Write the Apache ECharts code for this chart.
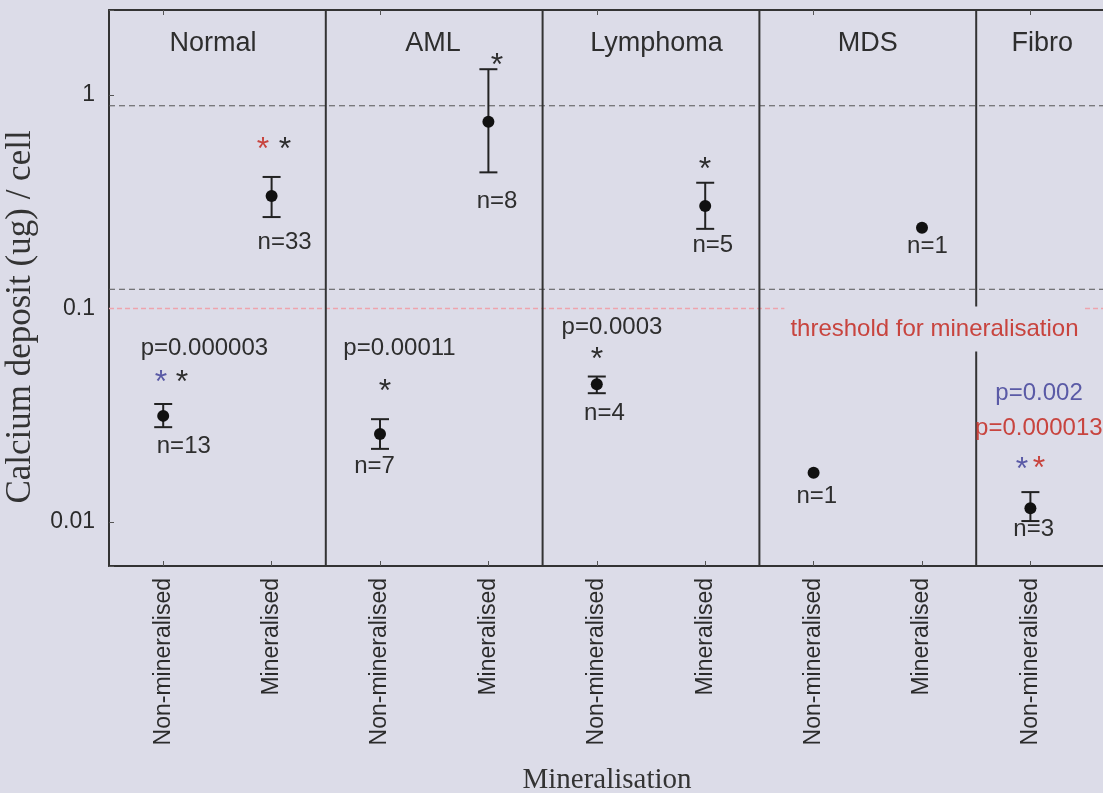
<!DOCTYPE html>
<html><head><meta charset="utf-8">
<script src="https://cdn.jsdelivr.net/npm/echarts@6/dist/echarts.min.js"></script>
<style>html,body{margin:0;padding:0;background:#dcdce8;} #c{width:1103px;height:793px;}</style>
</head><body><div id="c"></div>
<script>
// ---------- data ----------
const categories = ['Non-mineralised','Mineralised','Non-mineralised','Mineralised','Non-mineralised','Mineralised','Non-mineralised','Mineralised','Non-mineralised','Mineralised'];
const groupNames = ['Normal','AML','Lymphoma','MDS','Fibro'];
const meanValues  = [0.0314, 0.336, 0.0258, 0.75, 0.0442, 0.302, 0.017, 0.239, 0.0116, null];
const lowerValues = [0.0278, 0.268, 0.0220, 0.434, 0.0401, 0.236, null, null, 0.0101, null];
const upperValues = [0.0357, 0.413, 0.0303, 1.32, 0.0480, 0.388, null, null, 0.0138, null];
const sampleSizes = [13, 33, 7, 8, 4, 5, 1, 1, 3, null];
const pValueTexts = ['p=0.000003', 'p=0.00011', 'p=0.0003', 'p=0.002', 'p=0.000013'];
const thresholdText = 'threshold for mineralisation';
const refLineValues = [0.89, 0.123];
const thresholdValue = 0.1;
const yTickValues = [0.01, 0.1, 1];
const yTitle = 'Calcium deposit (ug) / cell';
const xTitle = 'Mineralisation';

// ---------- layout (annotation anchors in axis units) ----------
const DARK = '#2e2e2e', BLUE = '#5a5aa6', RED = '#c8443e', PINK = '#eea4ad';
const yMin = 0.00622, yMax = 2.5;
const groupTitleAnchors = [[0.46, 1.75], [2.49, 1.75], [4.55, 1.75], [6.50, 1.75], [8.11, 1.75]];
const nLabelAnchors = [[0.19, 0.0225], [1.12, 0.203], [1.95, 0.0183], [3.08, 0.319], [4.07, 0.0324], [5.07, 0.198], [6.03, 0.0132], [7.05, 0.196], [8.03, 0.0092], null];
const pLabelLayout = [
  {x: 0.38, y: 0.0653, color: DARK, align: 'center'},
  {x: 2.18, y: 0.0653, color: DARK, align: 'center'},
  {x: 4.14, y: 0.0819, color: DARK, align: 'center'},
  {x: 8.08, y: 0.0402, color: BLUE, align: 'center'},
  {x: 7.49, y: 0.0275, color: RED, align: 'left'}
];
const starLayout = [
  [-0.02, 0.0483, BLUE], [0.173, 0.0483, DARK],
  [0.921, 0.596, RED], [1.124, 0.596, DARK],
  [2.046, 0.0438, DARK], [3.08, 1.474, DARK],
  [4.002, 0.0619, DARK], [4.998, 0.48, DARK],
  [7.923, 0.0189, BLUE], [8.08, 0.0191, RED]
];
const thresholdAnchor = [7.115, 0.0802];
const dividerPositions = [1.5, 3.5, 5.5, 7.5];

const SANS = '"Liberation Sans", Arial, sans-serif';
const SERIF = '"Liberation Serif", "Times New Roman", serif';

// build annotation list
const annotations = [];
groupNames.forEach((g, i) => annotations.push({x: groupTitleAnchors[i][0], y: groupTitleAnchors[i][1], text: g, color: DARK, font: '27px ' + SANS, align: 'center'}));
sampleSizes.forEach((n, i) => { if (n != null) annotations.push({x: nLabelAnchors[i][0], y: nLabelAnchors[i][1], text: 'n=' + n, color: DARK, font: '24px ' + SANS, align: 'center'}); });
pValueTexts.forEach((t, i) => annotations.push({x: pLabelLayout[i].x, y: pLabelLayout[i].y, text: t, color: pLabelLayout[i].color, font: '24px ' + SANS, align: pLabelLayout[i].align}));
starLayout.forEach(s => annotations.push({x: s[0], y: s[1], text: '*', color: s[2], font: '32px ' + SANS, align: 'center', dy: 7}));
annotations.push({x: thresholdAnchor[0], y: thresholdAnchor[1], text: thresholdText, color: RED, font: '24px ' + SANS, align: 'center', box: true});

const pointData = [];
categories.forEach((c, i) => { if (meanValues[i] != null) pointData.push([i, meanValues[i]]); });

const chart = echarts.init(document.getElementById('c'), null, {renderer: 'canvas'});
chart.setOption({
  backgroundColor: '#dcdce8',
  animation: false,
  grid: {left: 109, top: 10, width: 1084, height: 556, containLabel: false, outerBoundsMode: 'none'},
  xAxis: [
    {type: 'category', data: categories, position: 'bottom', boundaryGap: true,
     axisLine: {show: true, onZero: false, lineStyle: {color: '#333', width: 2}},
     axisTick: {show: true, inside: true, alignWithLabel: true, length: 5, lineStyle: {color: '#555'}},
     axisLabel: {rotate: 90, margin: 12, color: '#2b2b2b', fontSize: 23, fontFamily: SANS, interval: 0},
     splitLine: {show: false}},
    {type: 'category', data: categories, position: 'top', boundaryGap: true,
     axisLine: {show: true, onZero: false, lineStyle: {color: '#333', width: 2}},
     axisTick: {show: true, inside: true, alignWithLabel: true, length: 5, lineStyle: {color: '#555'}},
     axisLabel: {show: false}, splitLine: {show: false}},
    {type: 'value', min: -0.5, max: 9.5, show: false, splitLine: {show: false}}
  ],
  yAxis: [{
    type: 'log', logBase: 10, min: yMin, max: yMax, position: 'left',
    axisLine: {show: true, onZero: false, lineStyle: {color: '#333', width: 2}},
    axisTick: {show: true, inside: true, length: 5, lineStyle: {color: '#555'}},
    splitLine: {show: false},
    axisLabel: {
      margin: 14, color: '#2b2b2b', fontSize: 23, fontFamily: SANS,
      formatter: function (v) {
        for (const t of yTickValues) { if (Math.abs(Math.log10(v) - Math.log10(t)) < 1e-6) return String(t); }
        return '';
      }
    }
  }],
  graphic: [
    {type: 'text', x: 21, y: 317, rotation: Math.PI / 2,
     style: {text: yTitle, font: '35px ' + SERIF, fill: '#333', align: 'center', verticalAlign: 'middle', textAlign: 'center', textVerticalAlign: 'middle'}},
    {type: 'text', x: 607, y: 780,
     style: {text: xTitle, font: '29px ' + SERIF, fill: '#333', align: 'center', verticalAlign: 'middle', textAlign: 'center', textVerticalAlign: 'middle'}}
  ],
  series: [
    { // reference lines
      type: 'custom', xAxisIndex: 2, z: 1, silent: true,
      data: refLineValues.map(v => [0, v, 0]).concat([[0, thresholdValue, 1]]),
      renderItem: function (params, api) {
        const cs = params.coordSys;
        const p = api.coord([0, api.value(1)]);
        const isThr = api.value(2) === 1;
        return {type: 'line', shape: {x1: cs.x, y1: p[1], x2: cs.x + cs.width, y2: p[1]},
          style: {stroke: isThr ? PINK : '#555', lineWidth: isThr ? 1.5 : 1, lineDash: isThr ? [5, 3] : [6, 4]}};
      }
    },
    { // panel dividers
      type: 'custom', xAxisIndex: 2, z: 2, silent: true,
      data: dividerPositions.map(x => [x, 1]),
      renderItem: function (params, api) {
        const cs = params.coordSys;
        const p = api.coord([api.value(0), 1]);
        return {type: 'line', shape: {x1: p[0], y1: cs.y, x2: p[0], y2: cs.y + cs.height},
          style: {stroke: '#333', lineWidth: 2}};
      }
    },
    { // mean points with error bars
      type: 'custom', xAxisIndex: 0, z: 3, silent: true,
      data: pointData,
      renderItem: function (params, api) {
        const i = api.value(0);
        const c = api.coord([i, api.value(1)]);
        const children = [];
        if (lowerValues[i] != null && upperValues[i] != null) {
          const lo = api.coord([i, lowerValues[i]]), hi = api.coord([i, upperValues[i]]);
          const w = 9;
          children.push({type: 'line', shape: {x1: c[0], y1: lo[1], x2: c[0], y2: hi[1]}, style: {stroke: '#222', lineWidth: 2}});
          children.push({type: 'line', shape: {x1: c[0] - w, y1: lo[1], x2: c[0] + w, y2: lo[1]}, style: {stroke: '#222', lineWidth: 2}});
          children.push({type: 'line', shape: {x1: c[0] - w, y1: hi[1], x2: c[0] + w, y2: hi[1]}, style: {stroke: '#222', lineWidth: 2}});
        }
        children.push({type: 'circle', shape: {cx: c[0], cy: c[1], r: 6}, style: {fill: '#111'}});
        return {type: 'group', children: children};
      }
    },
    { // annotations
      type: 'custom', xAxisIndex: 2, z: 5, silent: true,
      data: annotations.map(a => [a.x, a.y]),
      renderItem: function (params, api) {
        const a = annotations[params.dataIndex];
        const p = api.coord([a.x, a.y]);
        const st = {text: a.text, fill: a.color, font: a.font, align: a.align, verticalAlign: 'middle', textAlign: a.align, textVerticalAlign: 'middle'};
        if (a.box) { st.backgroundColor = '#dcdce8'; st.padding = [10, 6]; st.lineHeight = 25; }
        return {type: 'text', x: p[0], y: p[1] + (a.dy || 0), style: st, z2: a.box ? 10 : 1};
      }
    }
  ]
});
</script>
</body></html>
